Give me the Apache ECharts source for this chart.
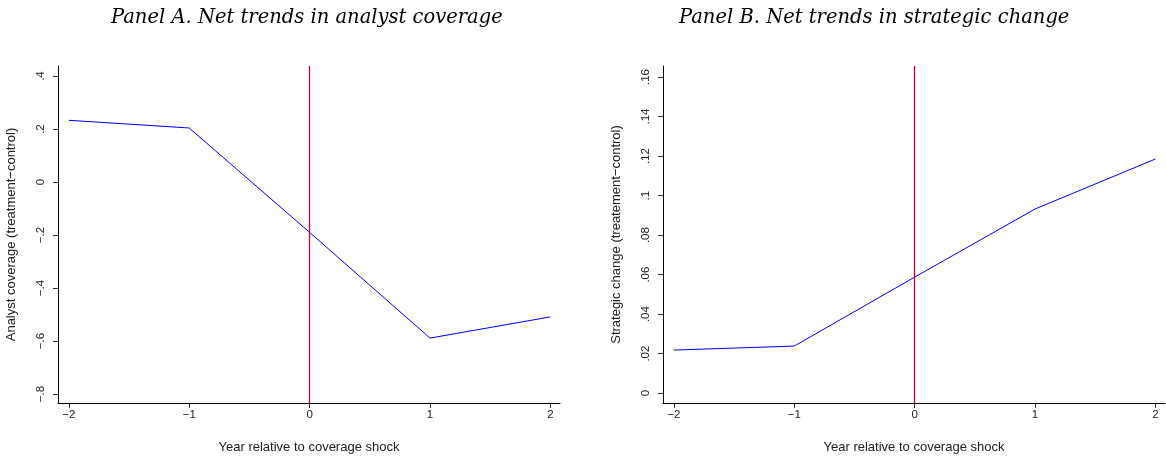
<!DOCTYPE html>
<html>
<head>
<meta charset="utf-8">
<script src="https://cdn.jsdelivr.net/npm/echarts@6/dist/echarts.min.js"></script>
<style>html,body{margin:0;padding:0;background:#fff}#c{width:1166px;height:460px}</style>
</head>
<body>
<div id="c"></div>
<script>
// Data
const years = [-2, -1, 0, 1, 2];
const coverage = [0.233, 0.204, -0.190, -0.589, -0.509];
const strategic = [0.0218, 0.0238, 0.0587, 0.0932, 0.1185];
const shockYear = 0;
const xTicks = [-2, -1, 0, 1, 2];
const yTicksA = [-0.8, -0.6, -0.4, -0.2, 0, 0.2, 0.4];
const yTicksB = [0, 0.02, 0.04, 0.06, 0.08, 0.1, 0.12, 0.14, 0.16];
const titles = ['Panel A. Net trends in analyst coverage', 'Panel B. Net trends in strategic change'];
const yNames = ['Analyst coverage (treatment\u2212control)', 'Strategic change (treatement\u2212control)'];
const xName = 'Year relative to coverage shock';

function stataNum(v) {
  let r = Math.round(v * 1000) / 1000;
  if (r === 0) return '0';
  let s = String(Math.abs(r)).replace(/^0\./, '.');
  return (r < 0 ? '\u2212' : '') + s;
}

const sans = 'Liberation Sans';
const chart = echarts.init(document.getElementById('c'));

function xAxis(gi) {
  return {
    type: 'value', gridIndex: gi, min: -2.09, max: 2.08,
    name: xName, nameLocation: 'middle', nameGap: 38,
    nameTextStyle: {color: '#222', fontFamily: sans, fontSize: 13},
    axisLine: {show: true, onZero: false, lineStyle: {color: '#000', width: 1}},
    axisTick: {show: true, customValues: xTicks, length: 5, lineStyle: {color: '#333'}},
    axisLabel: {customValues: xTicks, color: '#222', fontFamily: sans, fontSize: 11.5, margin: 6, formatter: stataNum},
    splitLine: {show: false}
  };
}
function yAxis(gi, min, max, ticks) {
  return {
    type: 'value', gridIndex: gi, min: min, max: max,
    name: yNames[gi], nameLocation: 'middle', nameGap: 40,
    nameTextStyle: {color: '#222', fontFamily: sans, fontSize: 13},
    axisLine: {show: true, onZero: false, lineStyle: {color: '#000', width: 1}},
    axisTick: {show: true, customValues: ticks, length: 5, lineStyle: {color: '#333'}},
    axisLabel: {customValues: ticks, rotate: 90, color: '#222', fontFamily: sans, fontSize: 11.5, margin: 11, formatter: stataNum},
    splitLine: {show: false}
  };
}
function series(gi, vals) {
  return {
    type: 'line', xAxisIndex: gi, yAxisIndex: gi,
    data: years.map((y, i) => [y, vals[i]]),
    showSymbol: false, symbol: 'none', silent: true,
    lineStyle: {color: '#0000ff', width: 1},
    markLine: {
      silent: true, symbol: 'none', label: {show: false},
      lineStyle: {color: '#c8003c', width: 1.3, type: 'solid'},
      data: [{xAxis: shockYear}]
    }
  };
}

const titleStyle = {fontFamily: 'DejaVu Serif', fontStyle: 'italic', fontWeight: 'normal', fontSize: 19.5, color: '#000'};
chart.setOption({
  animation: false,
  backgroundColor: '#fff',
  title: [
    {text: titles[0], left: 106, top: 3, textStyle: titleStyle},
    {text: titles[1], left: 674, top: 3, textStyle: titleStyle}
  ],
  grid: [
    {left: 58, top: 66, width: 502, height: 337, containLabel: false},
    {left: 663, top: 66, width: 502, height: 337, containLabel: false}
  ],
  xAxis: [xAxis(0), xAxis(1)],
  yAxis: [yAxis(0, -0.834, 0.438, yTicksA), yAxis(1, -0.005, 0.1656, yTicksB)],
  series: [series(0, coverage), series(1, strategic)]
});
</script>
</body>
</html>
